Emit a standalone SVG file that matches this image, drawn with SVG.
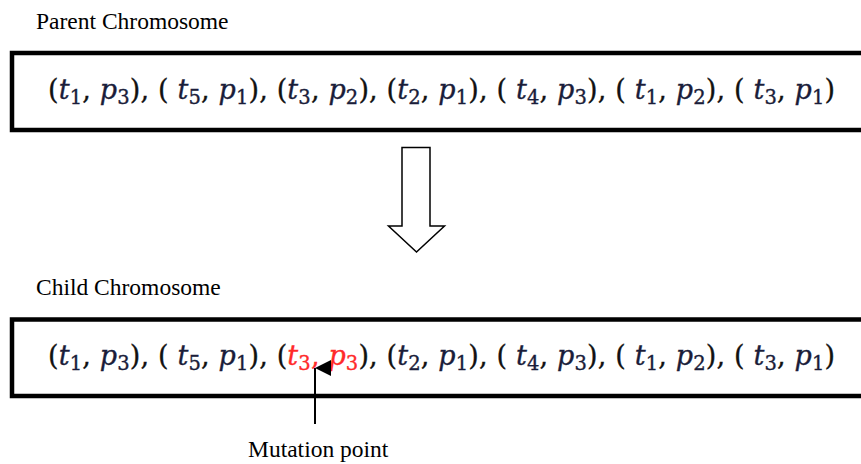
<svg xmlns="http://www.w3.org/2000/svg" width="861" height="464" viewBox="0 0 861 464">
  <style>
    .label { font-family: "Liberation Serif", "Times New Roman", serif; font-size: 23.5px; fill: #000; }
    .math { font-family: "DejaVu Serif", "Liberation Serif", serif; font-size: 27px; fill: #111; stroke: #111; stroke-width: 0.35; }
    .v { font-style: italic; fill: #1a1d3a; stroke: #1a1d3a; }
    .s { font-size: 19.5px; fill: #1a1d3a; stroke: #1a1d3a; }
    .red { fill: #ff2a2a; stroke: #ff2a2a; }
    .box { fill: #fff; stroke: #000; stroke-width: 4.5; }
  </style>
  <defs>
    <marker id="head" viewBox="0 0 16 16" markerWidth="16" markerHeight="16" refX="8" refY="0" orient="auto-start-reverse" markerUnits="userSpaceOnUse">
      <path d="M0,16 L8,0 L16,16 Z" fill="#000"/>
    </marker>
  </defs>

  <g id="parent">
    <text class="label" x="36" y="29">Parent Chromosome</text>
    <rect class="box" x="12" y="53" width="860" height="77"/>
    <text class="math" x="48" y="99" textLength="787" lengthAdjust="spacing">(<tspan class="v">t</tspan><tspan class="s" dy="5">1</tspan><tspan dy="-5">, </tspan><tspan class="v">p</tspan><tspan class="s" dy="5">3</tspan><tspan dy="-5">), ( </tspan><tspan class="v">t</tspan><tspan class="s" dy="5">5</tspan><tspan dy="-5">, </tspan><tspan class="v">p</tspan><tspan class="s" dy="5">1</tspan><tspan dy="-5">), (</tspan><tspan class="v">t</tspan><tspan class="s" dy="5">3</tspan><tspan dy="-5">, </tspan><tspan class="v">p</tspan><tspan class="s" dy="5">2</tspan><tspan dy="-5">), (</tspan><tspan class="v">t</tspan><tspan class="s" dy="5">2</tspan><tspan dy="-5">, </tspan><tspan class="v">p</tspan><tspan class="s" dy="5">1</tspan><tspan dy="-5">), ( </tspan><tspan class="v">t</tspan><tspan class="s" dy="5">4</tspan><tspan dy="-5">, </tspan><tspan class="v">p</tspan><tspan class="s" dy="5">3</tspan><tspan dy="-5">), ( </tspan><tspan class="v">t</tspan><tspan class="s" dy="5">1</tspan><tspan dy="-5">, </tspan><tspan class="v">p</tspan><tspan class="s" dy="5">2</tspan><tspan dy="-5">), ( </tspan><tspan class="v">t</tspan><tspan class="s" dy="5">3</tspan><tspan dy="-5">, </tspan><tspan class="v">p</tspan><tspan class="s" dy="5">1</tspan><tspan dy="-5">)</tspan></text>
  </g>

  <g id="child">
    <text class="label" x="36" y="295">Child Chromosome</text>
    <rect class="box" x="12" y="319.5" width="860" height="76.5"/>
    <text class="math" x="48" y="365" textLength="787" lengthAdjust="spacing">(<tspan class="v">t</tspan><tspan class="s" dy="5">1</tspan><tspan dy="-5">, </tspan><tspan class="v">p</tspan><tspan class="s" dy="5">3</tspan><tspan dy="-5">), ( </tspan><tspan class="v">t</tspan><tspan class="s" dy="5">5</tspan><tspan dy="-5">, </tspan><tspan class="v">p</tspan><tspan class="s" dy="5">1</tspan><tspan dy="-5">), (</tspan><tspan class="v red">t</tspan><tspan class="s red" dy="5">3</tspan><tspan class="red" dy="-5">, </tspan><tspan class="v red">p</tspan><tspan class="s red" dy="5">3</tspan><tspan dy="-5">), (</tspan><tspan class="v">t</tspan><tspan class="s" dy="5">2</tspan><tspan dy="-5">, </tspan><tspan class="v">p</tspan><tspan class="s" dy="5">1</tspan><tspan dy="-5">), ( </tspan><tspan class="v">t</tspan><tspan class="s" dy="5">4</tspan><tspan dy="-5">, </tspan><tspan class="v">p</tspan><tspan class="s" dy="5">3</tspan><tspan dy="-5">), ( </tspan><tspan class="v">t</tspan><tspan class="s" dy="5">1</tspan><tspan dy="-5">, </tspan><tspan class="v">p</tspan><tspan class="s" dy="5">2</tspan><tspan dy="-5">), ( </tspan><tspan class="v">t</tspan><tspan class="s" dy="5">3</tspan><tspan dy="-5">, </tspan><tspan class="v">p</tspan><tspan class="s" dy="5">1</tspan><tspan dy="-5">)</tspan></text>
  </g>

  <g id="mutation-label">
    <text class="label" x="248" y="457">Mutation point</text>
  </g>

  <g id="connectors">
    <!-- hollow block arrow from parent to child -->
    <path d="M402,147.5 H430 V226 H444.5 L416.5,252 L388.5,226 H402 Z" fill="#fff" stroke="#000" stroke-width="1.5" stroke-linejoin="miter"/>
    <!-- pointer to the mutated gene -->
    <line x1="315" y1="424" x2="315" y2="368" stroke="#000" stroke-width="2" marker-end="url(#head)"/>
  </g>
</svg>
